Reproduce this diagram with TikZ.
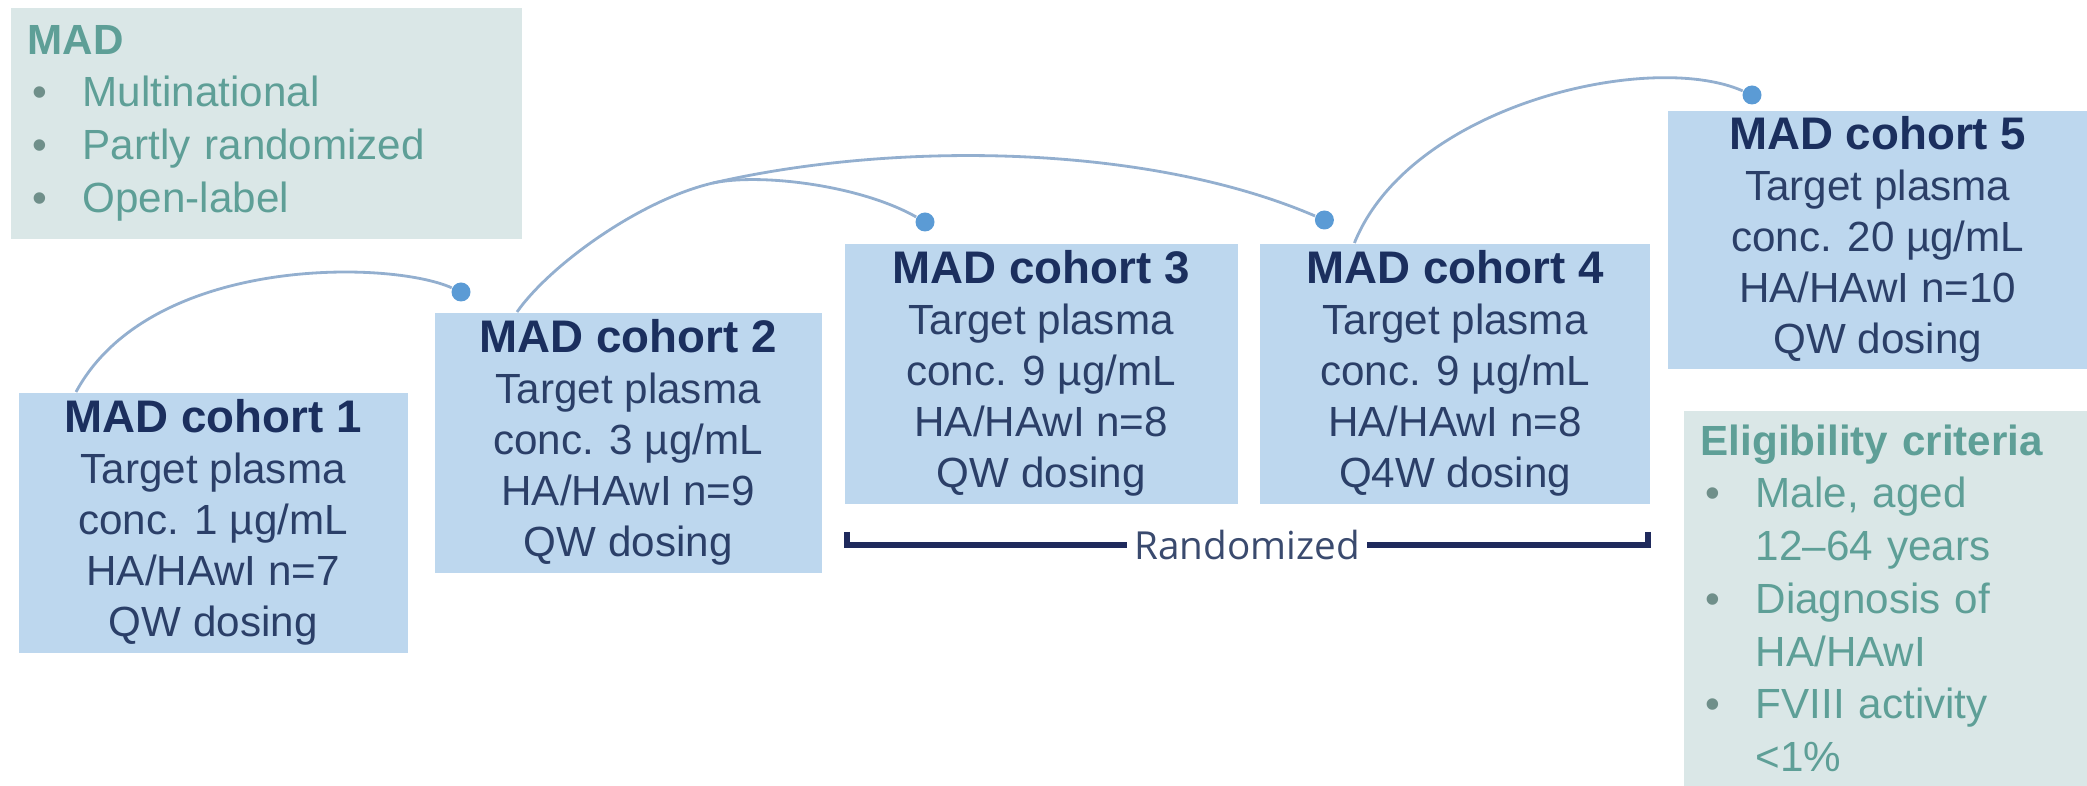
\documentclass[tikz,border=0pt]{standalone}
\usepackage{fontspec}
\setmainfont{Liberation Sans}
\newfontfamily\randfont{Open Sans}
\usetikzlibrary{positioning,calc}

\definecolor{boxblue}{HTML}{BDD7EE}
\definecolor{navy}{HTML}{1B2F5E}
\definecolor{bodynavy}{HTML}{2B3F68}
\definecolor{infofill}{HTML}{DAE7E7}
\definecolor{infotext}{HTML}{5E9F97}
\definecolor{bulgray}{HTML}{6F8F8A}
\definecolor{dotblue}{HTML}{5B9BD5}
\definecolor{linkblue}{HTML}{93AFCF}
\definecolor{bracketnavy}{HTML}{1F2A5C}
\definecolor{randgray}{HTML}{3A4A6E}

\newcommand{\bul}{\hspace*{0.05cm}\makebox[0.5cm][l]{\color{bulgray}\textbullet}}
\newcommand{\ind}{\hspace*{0.55cm}}
\newcommand{\cohorttitle}[1]{{\fontsize{13}{14.5}\selectfont\bfseries\color{navy}#1}}

\begin{document}
\begin{tikzpicture}[
    cohort/.style={rectangle, fill=boxblue, inner sep=0pt, anchor=north west,
      minimum height=2.6cm, align=center, text=bodynavy,
      font=\fontsize{12}{14.5}\selectfont},
    infobox/.style={rectangle, fill=infofill, anchor=north west, inner xsep=0.17cm,
      inner ysep=0pt, align=left, text=infotext, font=\fontsize{12}{15}\selectfont},
    dot/.style={circle, fill=dotblue, inner sep=0pt, minimum size=0.19cm},
    link/.style={draw=linkblue, line width=0.8pt},
    bracket/.style={draw=bracketnavy, line width=1.6pt},
  ]
\useasboundingbox (0,0) rectangle (20.87,7.85);

% study design notes
\node[infobox, text width=4.77cm, minimum height=2.31cm] (info) at (0.10,7.78)
  {\textbf{MAD}\\ \bul Multinational\\ \bul Partly randomized\\ \bul Open-label};

% cohorts
\node[cohort, minimum width=3.89cm] (c1) at (0.18,3.93)
  {\cohorttitle{MAD cohort 1}\\ Target plasma\\ conc. 1 µg/mL\\ HA/HAwI n=7\\ QW dosing};
\node[cohort, minimum width=3.87cm] (c2) at (4.34,4.73)
  {\cohorttitle{MAD cohort 2}\\ Target plasma\\ conc. 3 µg/mL\\ HA/HAwI n=9\\ QW dosing};
\node[cohort, minimum width=3.93cm] (c3) at (8.44,5.42)
  {\cohorttitle{MAD cohort 3}\\ Target plasma\\ conc. 9 µg/mL\\ HA/HAwI n=8\\ QW dosing};
\node[cohort, minimum width=3.90cm, right=0.21cm of c3] (c4)
  {\cohorttitle{MAD cohort 4}\\ Target plasma\\ conc. 9 µg/mL\\ HA/HAwI n=8\\ Q4W dosing};
\node[cohort, minimum width=4.20cm, minimum height=2.58cm] (c5) at (16.67,6.75)
  {\cohorttitle{MAD cohort 5}\\ Target plasma\\ conc. 20 µg/mL\\ HA/HAwI n=10\\ QW dosing};

% eligibility
\node[infobox, text width=3.70cm, minimum height=3.75cm] (elig) at (16.83,3.75)
  {\textbf{Eligibility criteria}\\ \bul Male, aged\\ \ind 12–64 years\\
   \bul Diagnosis of\\ \ind HA/HAwI\\ \bul FVIII activity\\ \ind <1\%};

% escalation links
\node[dot] (d2) at ($(c2.north west)+(0.27,0.20)$) {};
\node[dot] (d3) at ($(c3.north west)+(0.81,0.21)$) {};
\node[dot] (d4) at ($(c4.north west)+(0.65,0.23)$) {};
\node[dot] (d5) at ($(c5.north west)+(0.85,0.15)$) {};
\coordinate (s1) at ($(c1.north west)+(0.58,0)$);
\coordinate (s2) at ($(c2.north west)+(0.83,0)$);
\coordinate (s3) at ($(c4.north west)+(0.95,0)$);
\coordinate (br) at (7.13,6.02);

\draw[link] (s1) .. controls (1.5,5.3) and (3.9,5.25) .. (d2);
\draw[link] (s2) .. controls (5.5,5.2) and (6.4,5.85) .. (br)
  .. controls (9.0,6.45) and (11.5,6.4) .. (d4);
\draw[link] (br) .. controls (7.6,6.12) and (8.6,6.0) .. (d3);
\draw[link] (s3) .. controls (14.1,6.8) and (16.5,7.35) .. (d5);

% randomized bracket
\node[font=\randfont\fontsize{11}{13}\selectfont, text=randgray, inner xsep=2pt]
  (rand) at (12.47,2.40) {Randomized};
\coordinate (bl) at (8.47,2.53);
\coordinate (bk) at (16.48,2.53);
\draw[bracket] (bl) |- (rand.west);
\draw[bracket] (bk) |- (rand.east);

\end{tikzpicture}
\end{document}
